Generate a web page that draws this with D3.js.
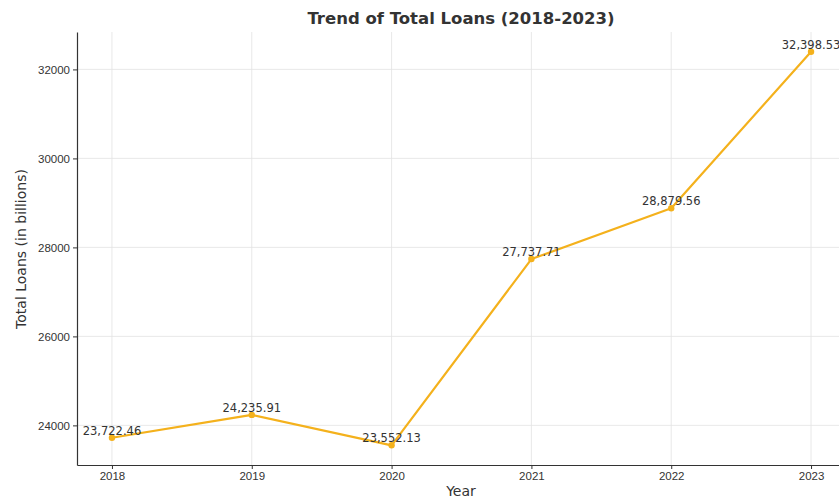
<!DOCTYPE html>
<html>
<head>
<meta charset="utf-8">
<script src="https://cdn.jsdelivr.net/npm/d3@7"></script>
<style>
  body { margin: 0; background: #fff; }
  svg { font-family: "DejaVu Sans", sans-serif; }
</style>
</head>
<body>
<svg id="chart"></svg>
<script>
const years = [2018, 2019, 2020, 2021, 2022, 2023];
const totalLoans = [23722.46, 24235.91, 23552.13, 27737.71, 28879.56, 32398.53];
const yTicks = [24000, 26000, 28000, 30000, 32000];

const width = 839;
const height = 497;
const margin = { top: 32, right: -7, bottom: 32, left: 77 };

const svg = d3.select("#chart")
    .attr("width", width)
    .attr("height", height);

// matplotlib style 5% padding on both axes
const yMin = d3.min(totalLoans), yMax = d3.max(totalLoans);
const yPad = (yMax - yMin) * 0.05;
const x = d3.scaleLinear()
    .domain([2018 - 0.25, 2023 + 0.25])
    .range([margin.left, width - margin.right]);
const y = d3.scaleLinear()
    .domain([yMin - yPad, yMax + yPad])
    .range([height - margin.bottom, margin.top]);

const orange = "#f4b11c";

// grid
svg.append("g")
    .selectAll("line")
    .data(years)
    .enter().append("line")
    .attr("x1", d => x(d)).attr("x2", d => x(d))
    .attr("y1", margin.top).attr("y2", height - margin.bottom)
    .attr("stroke", "#e3e3e3")
    .attr("stroke-width", 0.8);
svg.append("g")
    .selectAll("line")
    .data(yTicks)
    .enter().append("line")
    .attr("x1", margin.left).attr("x2", width)
    .attr("y1", d => y(d)).attr("y2", d => y(d))
    .attr("stroke", "#e3e3e3")
    .attr("stroke-width", 0.8);

// axes
const xAxis = svg.append("g")
    .attr("transform", `translate(0,${height - margin.bottom})`)
    .call(d3.axisBottom(x).tickValues(years).tickFormat(d3.format("d"))
        .tickSizeInner(4).tickSizeOuter(0).tickPadding(3));
const yAxis = svg.append("g")
    .attr("transform", `translate(${margin.left},0)`)
    .call(d3.axisLeft(y).tickValues(yTicks).tickFormat(d3.format("d"))
        .tickSizeInner(4).tickSizeOuter(0).tickPadding(3));

[xAxis, yAxis].forEach(a => {
    a.select(".domain").attr("stroke", "#333").attr("stroke-width", 1.2);
    a.selectAll(".tick line").attr("stroke", "#333");
    a.selectAll(".tick text").attr("fill", "#333").style("font-size", "11.5px");
});

// line
const points = years.map((yr, i) => ({ year: yr, value: totalLoans[i] }));
svg.append("path")
    .datum(points)
    .attr("fill", "none")
    .attr("stroke", orange)
    .attr("stroke-width", 2.2)
    .attr("stroke-linejoin", "round")
    .attr("d", d3.line().x(d => x(d.year)).y(d => y(d.value)));

svg.append("g")
    .selectAll("circle")
    .data(points)
    .enter().append("circle")
    .attr("cx", d => x(d.year))
    .attr("cy", d => y(d.value))
    .attr("r", 3.2)
    .attr("fill", orange);

// value labels
svg.append("g")
    .selectAll("text")
    .data(points)
    .enter().append("text")
    .attr("x", d => x(d.year))
    .attr("y", d => y(d.value) - 3)
    .attr("text-anchor", "middle")
    .attr("fill", "#333")
    .style("font-size", "11.5px")
    .text(d => d3.format(",.2f")(d.value));

// title and axis labels
svg.append("text")
    .attr("x", 461).attr("y", 24)
    .attr("text-anchor", "middle")
    .attr("fill", "#333")
    .style("font-size", "16.5px")
    .style("font-weight", "bold")
    .text("Trend of Total Loans (2018-2023)");

svg.append("text")
    .attr("x", 461).attr("y", 496)
    .attr("text-anchor", "middle")
    .attr("fill", "#333")
    .style("font-size", "14px")
    .text("Year");

svg.append("text")
    .attr("transform", "translate(26,249) rotate(-90)")
    .attr("text-anchor", "middle")
    .attr("fill", "#333")
    .style("font-size", "14px")
    .text("Total Loans (in billions)");
</script>
</body>
</html>
